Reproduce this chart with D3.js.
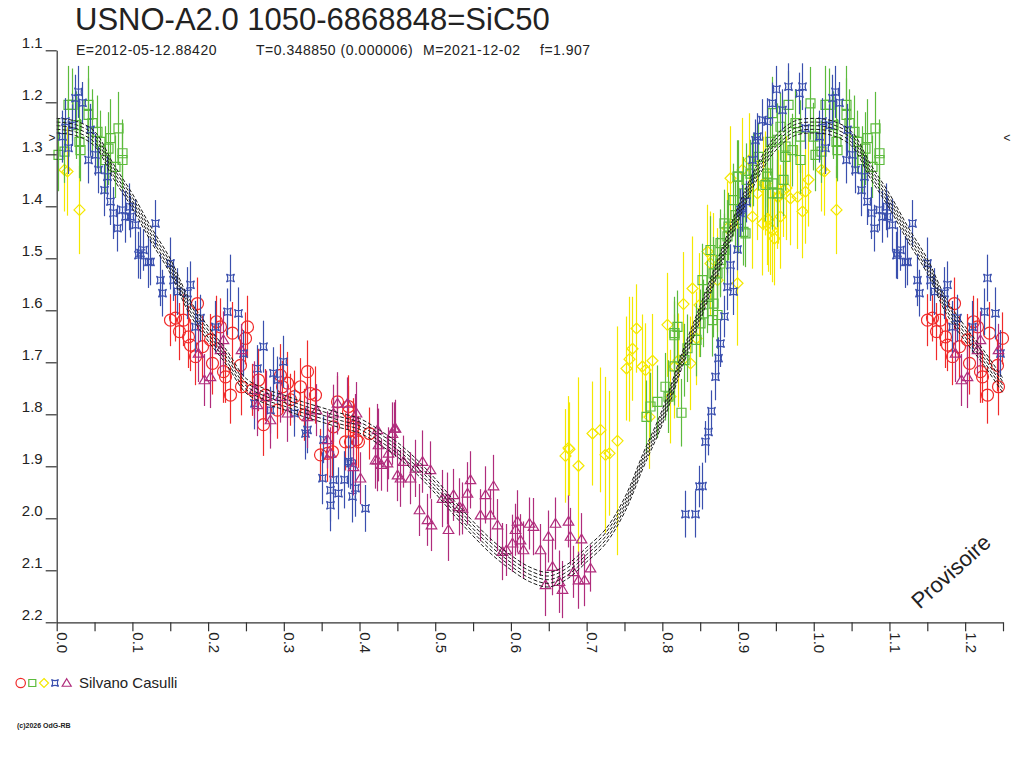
<!DOCTYPE html>
<html>
<head>
<meta charset="utf-8">
<script src="https://cdn.jsdelivr.net/npm/d3@7"></script>
<style>
  body { margin: 0; background: #fff; }
  text { font-family: "Liberation Sans", Arial, sans-serif; fill: #222; }
</style>
</head>
<body>
<script>
// [phase, magnitude, error]
const redPts = [
  [0.150,1.619,0.05],[0.156,1.615,0.045],[0.161,1.641,0.055],[0.167,1.619,0.05],[0.174,1.651,0.06],
  [0.176,1.667,0.05],[0.183,1.689,0.055],[0.185,1.587,0.05],[0.192,1.670,0.06],[0.203,1.657,0.05],
  [0.205,1.702,0.06],[0.211,1.622,0.05],[0.216,1.632,0.055],[0.220,1.718,0.06],[0.222,1.728,0.05],
  [0.229,1.763,0.055],[0.231,1.644,0.06],[0.242,1.706,0.05],[0.244,1.747,0.055],[0.249,1.654,0.05],
  [0.251,1.632,0.06],[0.258,1.753,0.05],[0.266,1.734,0.06],[0.273,1.820,0.06],[0.275,1.763,0.05],
  [0.291,1.792,0.055],[0.295,1.725,0.06],[0.297,1.747,0.05],[0.304,1.740,0.06],[0.308,1.772,0.05],
  [0.313,1.766,0.05],[0.321,1.747,0.055],[0.327,1.801,0.05],[0.330,1.718,0.06],[0.335,1.760,0.05],
  [0.341,1.763,0.055],[0.348,1.878,0.05],[0.357,1.875,0.055],[0.363,1.872,0.05],[0.365,1.824,0.06],
  [0.370,1.776,0.05],[0.381,1.853,0.055],[0.385,1.785,0.06],[0.385,1.795,0.05],[0.387,1.853,0.05],
  [0.392,1.824,0.055],[0.396,1.849,0.05],[0.398,1.853,0.05],[0.412,1.837,0.05]
]

const greenPts = [
  [0.002,1.301,0.07],[0.009,1.295,0.06],[0.015,1.205,0.075],[0.020,1.205,0.07],[0.026,1.244,0.065],
  [0.029,1.276,0.07],[0.031,1.292,0.06],[0.042,1.205,0.075],[0.042,1.224,0.07],[0.046,1.240,0.065],
  [0.053,1.257,0.07],[0.057,1.276,0.06],[0.064,1.311,0.065],[0.068,1.289,0.07],[0.070,1.269,0.075],
  [0.077,1.324,0.06],[0.081,1.250,0.07],[0.086,1.298,0.065],[0.086,1.311,0.06],
  [0.779,1.805,0.07],[0.784,1.785,0.065],[0.793,1.776,0.07],[0.804,1.747,0.065],[0.808,1.766,0.07],
  [0.815,1.708,0.075],[0.815,1.648,0.065],[0.815,1.644,0.07],[0.819,1.632,0.07],[0.825,1.797,0.065],
  [0.828,1.696,0.07],[0.832,1.673,0.065],[0.845,1.657,0.07],[0.850,1.625,0.065],[0.852,1.542,0.07],
  [0.854,1.606,0.065],[0.859,1.574,0.07],[0.863,1.484,0.065],[0.865,1.619,0.07],[0.867,1.587,0.065],
  [0.867,1.529,0.07],[0.872,1.609,0.065],[0.872,1.529,0.07],[0.876,1.510,0.065],[0.876,1.503,0.07],
  [0.876,1.471,0.065],[0.881,1.484,0.07],[0.881,1.433,0.065],[0.885,1.458,0.07],[0.887,1.439,0.065],
  [0.894,1.388,0.07],[0.896,1.417,0.065],[0.898,1.343,0.07],[0.900,1.426,0.065],[0.900,1.343,0.07],
  [0.907,1.449,0.065],[0.907,1.375,0.07],[0.909,1.452,0.065],[0.911,1.349,0.07],[0.916,1.337,0.065],
  [0.920,1.330,0.07],[0.927,1.305,0.065],[0.936,1.359,0.07],[0.938,1.337,0.065],[0.938,1.343,0.07],
  [0.942,1.276,0.065],[0.945,1.375,0.07],[0.945,1.356,0.065],[0.945,1.221,0.07],[0.951,1.375,0.065],
  [0.951,1.272,0.07],[0.956,1.247,0.065],[0.960,1.349,0.07],[0.962,1.305,0.065],[0.962,1.285,0.07],
  [0.966,1.205,0.065],[0.971,1.292,0.07],[0.975,1.240,0.065],[0.982,1.266,0.07],[0.982,1.311,0.065],
  [0.995,1.202,0.07],[0.999,1.266,0.065]
]

const yellowPts = [
  [0.009,1.330,0.08],[0.013,1.333,0.085],[0.029,1.407,0.085],
  [0.671,1.880,0.09],[0.676,1.865,0.1],[0.677,1.867,0.09],[0.689,1.899,0.17],[0.707,1.837,0.1],
  [0.718,1.830,0.12],[0.724,1.878,0.15],[0.729,1.875,0.12],[0.740,1.851,0.22],[0.752,1.712,0.1],
  [0.756,1.694,0.12],[0.760,1.674,0.1],[0.765,1.635,0.085],[0.773,1.708,0.1],[0.777,1.715,0.09],
  [0.782,1.805,0.1],[0.786,1.697,0.09],[0.806,1.628,0.1],[0.810,1.766,0.09],[0.815,1.708,0.1],
  [0.821,1.696,0.09],[0.827,1.588,0.1],[0.837,1.702,0.09],[0.839,1.558,0.1],[0.845,1.654,0.09],
  [0.848,1.590,0.1],[0.859,1.487,0.09],[0.863,1.510,0.1],[0.867,1.503,0.09],[0.872,1.542,0.1],
  [0.885,1.442,0.09],[0.889,1.346,0.1],[0.898,1.548,0.12],[0.905,1.330,0.1],[0.914,1.311,0.09],
  [0.918,1.420,0.1],[0.925,1.375,0.09],[0.931,1.433,0.1],[0.933,1.356,0.09],[0.936,1.356,0.1],
  [0.938,1.423,0.09],[0.940,1.426,0.1],[0.942,1.442,0.09],[0.945,1.446,0.1],[0.947,1.462,0.09],
  [0.951,1.382,0.1],[0.953,1.382,0.09],[0.955,1.420,0.1],[0.960,1.369,0.09],[0.964,1.365,0.1],
  [0.969,1.385,0.09],[0.978,1.382,0.1],[0.984,1.410,0.09],[0.989,1.372,0.1],[0.993,1.349,0.09]
]

const bluePts = [
  [0.007,1.266,0.05],[0.011,1.237,0.045],[0.015,1.288,0.05],[0.020,1.244,0.04],[0.024,1.192,0.045],
  [0.028,1.180,0.05],[0.033,1.201,0.04],[0.042,1.311,0.045],[0.044,1.253,0.05],[0.051,1.301,0.04],
  [0.055,1.330,0.045],[0.062,1.369,0.05],[0.066,1.343,0.04],[0.070,1.391,0.045],[0.075,1.413,0.05],
  [0.079,1.442,0.045],[0.086,1.407,0.04],[0.090,1.420,0.05],[0.095,1.401,0.045],[0.097,1.420,0.04],
  [0.103,1.436,0.05],[0.108,1.494,0.045],[0.110,1.490,0.05],[0.114,1.484,0.04],[0.121,1.507,0.05],
  [0.123,1.507,0.045],[0.130,1.433,0.045],[0.137,1.542,0.05],[0.139,1.567,0.045],[0.150,1.510,0.05],
  [0.154,1.542,0.04],[0.159,1.564,0.045],[0.172,1.567,0.05],[0.176,1.551,0.045],[0.183,1.632,0.05],
  [0.189,1.615,0.045],[0.209,1.632,0.05],[0.225,1.603,0.045],[0.229,1.538,0.045],[0.240,1.606,0.05],
  [0.246,1.683,0.045],[0.260,1.779,0.05],[0.264,1.712,0.045],[0.273,1.670,0.05],[0.282,1.792,0.045],
  [0.286,1.721,0.05],[0.291,1.734,0.045],[0.299,1.699,0.05],[0.313,1.798,0.045],[0.328,1.837,0.05],
  [0.330,1.830,0.045],[0.350,1.923,0.05],[0.352,1.849,0.045],[0.361,1.946,0.06],[0.361,1.975,0.05],
  [0.365,1.926,0.055],[0.372,1.952,0.05],[0.379,1.926,0.055],[0.385,1.891,0.05],[0.387,1.894,0.05],
  [0.390,1.958,0.05],[0.394,1.942,0.055],[0.407,1.981,0.045],
  [0.830,1.992,0.045],[0.843,1.992,0.045],[0.848,1.939,0.04],[0.852,1.938,0.045],[0.856,1.853,0.04],
  [0.860,1.834,0.045],[0.864,1.794,0.04],[0.869,1.728,0.045],[0.873,1.692,0.04],[0.876,1.664,0.045],
  [0.881,1.612,0.04],[0.885,1.555,0.045],[0.889,1.513,0.04],[0.893,1.564,0.045],[0.898,1.483,0.04],
  [0.903,1.413,0.045],[0.903,1.407,0.04],[0.905,1.404,0.045],[0.911,1.391,0.04],[0.918,1.311,0.045],
  [0.922,1.273,0.04],[0.925,1.266,0.045],[0.931,1.234,0.04],[0.938,1.237,0.045],[0.945,1.202,0.04],
  [0.950,1.175,0.045],[0.958,1.215,0.04],[0.966,1.170,0.045],[0.980,1.183,0.04],[0.984,1.170,0.045],
  [0.989,1.250,0.04]
]

const purplePts = [
  [0.187,1.683,0.055],[0.194,1.734,0.05],[0.203,1.728,0.06],[0.216,1.676,0.05],[0.220,1.657,0.055],
  [0.244,1.676,0.05],[0.260,1.753,0.055],[0.264,1.782,0.06],[0.277,1.766,0.05],[0.282,1.811,0.055],
  [0.295,1.766,0.05],[0.304,1.798,0.055],[0.330,1.805,0.06],[0.343,1.792,0.05],[0.357,1.849,0.055],
  [0.361,1.875,0.05],[0.365,1.798,0.055],[0.370,1.779,0.06],[0.383,1.779,0.05],[0.392,1.901,0.055],
  [0.394,1.811,0.05],[0.396,1.798,0.06],[0.401,1.923,0.05],[0.420,1.888,0.055],[0.423,1.830,0.05],
  [0.423,1.888,0.06],[0.425,1.859,0.07],[0.429,1.897,0.05],[0.436,1.894,0.055],[0.438,1.875,0.05],
  [0.443,1.837,0.06],[0.445,1.827,0.05],[0.447,1.827,0.055],[0.449,1.917,0.05],[0.453,1.923,0.055],
  [0.458,1.891,0.05],[0.467,1.923,0.05],[0.473,1.904,0.055],[0.478,1.984,0.05],[0.482,1.891,0.06],
  [0.489,2.003,0.05],[0.493,1.907,0.055],[0.495,2.013,0.05],[0.509,1.962,0.055],[0.515,1.962,0.05],
  [0.517,2.022,0.06],[0.524,1.955,0.05],[0.531,1.978,0.055],[0.535,1.981,0.05],[0.542,1.952,0.06],
  [0.546,1.926,0.055],[0.559,1.994,0.05],[0.566,1.955,0.055],[0.572,1.994,0.05],[0.576,1.938,0.06],
  [0.581,2.013,0.05],[0.588,2.064,0.055],[0.594,2.061,0.05],[0.601,2.048,0.055],[0.605,2.022,0.05],
  [0.608,2.006,0.06],[0.612,2.042,0.05],[0.616,2.061,0.055],[0.624,2.010,0.05],[0.629,2.016,0.055],
  [0.638,2.061,0.05],[0.645,2.128,0.06],[0.649,2.035,0.05],[0.654,2.093,0.055],[0.658,2.010,0.05],
  [0.663,2.122,0.06],[0.667,2.137,0.055],[0.675,2.006,0.05],[0.678,2.035,0.055],[0.682,2.103,0.05],
  [0.689,2.119,0.055],[0.692,2.040,0.05],[0.696,2.119,0.05],[0.704,2.096,0.045]
]

// fitted light curve, phase 0..1
const fitPhase = [0, 0.025, 0.05, 0.075, 0.1, 0.125, 0.15, 0.175, 0.2, 0.225, 0.25, 0.275, 0.3, 0.325,
  0.35, 0.375, 0.4, 0.425, 0.45, 0.475, 0.5, 0.525, 0.55, 0.575, 0.6, 0.625, 0.65, 0.675, 0.7, 0.725,
  0.75, 0.775, 0.8, 0.825, 0.85, 0.875, 0.9, 0.925, 0.95, 0.975]
const fitMag = [1.245, 1.250, 1.270, 1.333, 1.390, 1.455, 1.515, 1.592, 1.645, 1.692, 1.745, 1.765,
  1.777, 1.790, 1.801, 1.812, 1.822, 1.843, 1.868, 1.900, 1.938, 1.980, 2.020, 2.056, 2.085, 2.108,
  2.118, 2.102, 2.070, 2.035, 1.975, 1.888, 1.805, 1.700, 1.605, 1.510, 1.415, 1.335, 1.278, 1.250]
const fitOffsets = [-0.014, -0.007, 0, 0.007, 0.014]

const xTicks = [0, 0.1, 0.2, 0.3, 0.4, 0.5, 0.6, 0.7, 0.8, 0.9, 1.0, 1.1, 1.2]
const xMinorTicks = [0.05, 0.15, 0.25, 0.35, 0.45, 0.55, 0.65, 0.75, 0.85, 0.95, 1.05, 1.15, 1.25]
const yTicks = [1.1, 1.2, 1.3, 1.4, 1.5, 1.6, 1.7, 1.8, 1.9, 2.0, 2.1, 2.2]
const markLevel = 1.268

const title = 'USNO-A2.0 1050-6868848=SiC50'
const infoItems = ['E=2012-05-12.88420', 'T=0.348850 (0.000006)', 'M=2021-12-02', 'f=1.907']
const observer = 'Silvano Casulli'

const colors = { red: '#f02a2a', green: '#5cbb3c', yellow: '#f4e800', blue: '#3a4fae', purple: '#b02c7c' }

const width = 1024
const height = 768

const svg = d3
  .select('body')
  .append('svg')
  .attr('width', width)
  .attr('height', height)

svg.append('rect').attr('width', width).attr('height', height).attr('fill', '#fff')

const xPositionScale = d3.scaleLinear().domain([0, 1.25]).range([56.7, 1003])
const yPositionScale = d3.scaleLinear().domain([1.1, 2.2]).range([50.3, 622.3])

// phases below 0.25 are shown a second time after 1.0
const fold = pts => pts.concat(pts.filter(d => d[0] < 0.25).map(d => [d[0] + 1, d[1], d[2]]))

// marker paths, centred on 0,0
const shapes = {
  circle: r => `M${r},0A${r},${r} 0 1,1 ${-r},0A${r},${r} 0 1,1 ${r},0Z`,
  square: s => `M${-s},${-s}H${s}V${s}H${-s}Z`,
  diamond: s => `M0,${-s}L${s},0L0,${s}L${-s},0Z`,
  star: s => `M${-s},${-s}Q0,${-s * 0.35} ${s},${-s}Q${s * 0.35},0 ${s},${s}Q0,${s * 0.35} ${-s},${s}Q${-s * 0.35},0 ${-s},${-s}Z`,
  triangle: s => `M0,${-s}L${s * 1.05},${s * 0.75}L${-s * 1.05},${s * 0.75}Z`
}

function drawSeries(pts, color, shape, size) {
  const g = svg.append('g').attr('class', 'series')
  const data = fold(pts)
  g.selectAll('.err')
    .data(data)
    .enter()
    .append('line')
    .attr('x1', d => Math.round(xPositionScale(d[0])) + 0.5)
    .attr('x2', d => Math.round(xPositionScale(d[0])) + 0.5)
    .attr('y1', d => yPositionScale(d[1] - d[2]))
    .attr('y2', d => yPositionScale(d[1] + d[2]))
    .attr('stroke', color)
    .attr('stroke-width', 1.2)
  g.selectAll('.mark')
    .data(data)
    .enter()
    .append('path')
    .attr('d', shapes[shape](size))
    .attr('transform', d => `translate(${Math.round(xPositionScale(d[0])) + 0.5},${yPositionScale(d[1])})`)
    .attr('fill', 'none')
    .attr('stroke', color)
    .attr('stroke-width', 1.2)
}

drawSeries(yellowPts, colors.yellow, 'diamond', 5.5)
drawSeries(greenPts, colors.green, 'square', 4.5)
drawSeries(redPts, colors.red, 'circle', 6)
drawSeries(bluePts, colors.blue, 'star', 4)
drawSeries(purplePts, colors.purple, 'triangle', 5)

// fit curves
const fitPts = fitPhase.map((p, i) => [p, fitMag[i]])
const fitFolded = fitPts
  .concat(fitPts.map(d => [d[0] + 1, d[1]]).filter(d => d[0] <= 1.25))
const line = d3
  .line()
  .x(d => xPositionScale(d[0]))
  .y(d => yPositionScale(d[1]))
  .curve(d3.curveCatmullRom)

fitOffsets.forEach(off => {
  svg
    .append('path')
    .datum(fitFolded.map(d => [d[0], d[1] + off]))
    .attr('d', line)
    .attr('fill', 'none')
    .attr('stroke', '#1a1a1a')
    .attr('stroke-width', 1)
    .attr('stroke-dasharray', '4,2')
})

// axes
const yAxis = d3
  .axisLeft(yPositionScale)
  .tickValues(yTicks)
  .tickSize(11)
  .tickSizeOuter(0)
  .tickPadding(3)
  .tickFormat(d3.format('.1f'))
const yAxisG = svg
  .append('g')
  .attr('class', 'axis y-axis')
  .attr('transform', `translate(${xPositionScale(0)},0)`)
  .call(yAxis)

const xAxis = d3
  .axisBottom(xPositionScale)
  .tickValues(xTicks.concat(xMinorTicks))
  .tickSize(9)
  .tickSizeOuter(0)
  .tickFormat(d => (xTicks.includes(d) ? d3.format('.1f')(d) : ''))
const xAxisG = svg
  .append('g')
  .attr('class', 'axis x-axis')
  .attr('transform', `translate(0,${yPositionScale(2.2)})`)
  .call(xAxis)

svg.selectAll('.axis path, .axis line').attr('stroke', '#333').attr('stroke-width', 1.2)
svg.selectAll('.axis text').attr('font-size', 15).attr('fill', '#222')
  .attr('font-family', '"Liberation Sans", Arial, sans-serif')
yAxisG.selectAll('text').attr('dy', '-0.17em')
xAxisG
  .selectAll('text')
  .attr('transform', 'rotate(90)')
  .attr('x', 10)
  .attr('y', 0)
  .attr('dy', 0)
  .attr('text-anchor', 'start')

// max-level marks at both ends
svg.append('text')
  .attr('x', 52)
  .attr('y', yPositionScale(markLevel) + 4)
  .attr('text-anchor', 'middle')
  .attr('font-size', 12)
  .text('>')
svg.append('text')
  .attr('x', 1007)
  .attr('y', yPositionScale(markLevel) + 4)
  .attr('text-anchor', 'middle')
  .attr('font-size', 12)
  .text('<')

// titles
svg.append('text')
  .attr('x', 75)
  .attr('y', 30)
  .attr('font-size', 31)
  .text(title)

const infoX = [76, 256, 423, 540]
infoItems.forEach((t, i) => {
  svg.append('text')
    .attr('x', infoX[i])
    .attr('y', 55)
    .attr('font-size', 14)
    .attr('letter-spacing', 0.5)
    .text(t)
})

svg.append('text')
  .attr('transform', 'translate(956,577) rotate(-42)')
  .attr('text-anchor', 'middle')
  .attr('font-size', 22)
  .text('Provisoire')

// legend
const legendItems = [
  { shape: 'circle', size: 4.7, color: colors.red, x: 20.7 },
  { shape: 'square', size: 3.5, color: colors.green, x: 32.3 },
  { shape: 'diamond', size: 4.5, color: colors.yellow, x: 44 },
  { shape: 'star', size: 3.5, color: colors.blue, x: 55 },
  { shape: 'triangle', size: 4.3, color: colors.purple, x: 66.7 }
]
svg.selectAll('.legend-mark')
  .data(legendItems)
  .enter()
  .append('path')
  .attr('class', 'legend-mark')
  .attr('d', d => shapes[d.shape](d.size))
  .attr('transform', d => `translate(${d.x},683)`)
  .attr('fill', 'none')
  .attr('stroke', d => d.color)
  .attr('stroke-width', 1.2)

svg.append('text')
  .attr('x', 79)
  .attr('y', 688)
  .attr('font-size', 15)
  .text(observer)

svg.append('text')
  .attr('x', 17)
  .attr('y', 728)
  .attr('font-size', 7)
  .attr('font-weight', 'bold')
  .text('(c)2026 OdG-RB')
</script>
</body>
</html>
